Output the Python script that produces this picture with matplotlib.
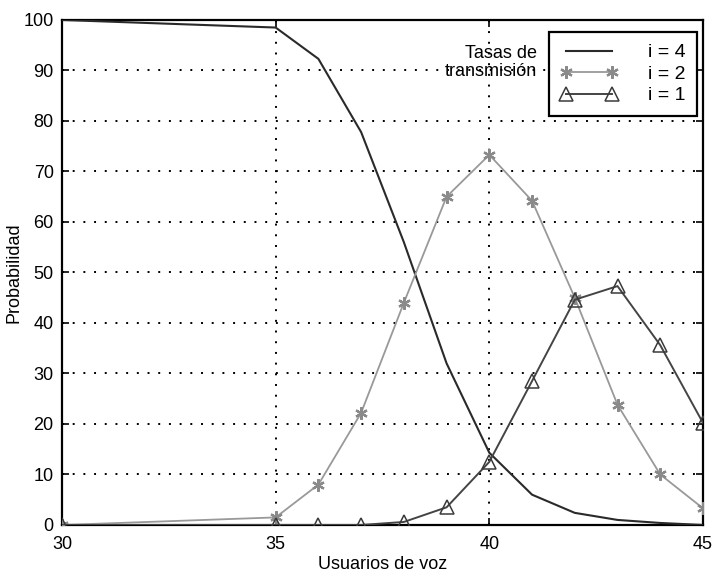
import matplotlib
matplotlib.use("Agg")
import matplotlib.pyplot as plt

plt.rcParams['font.family'] = ['Liberation Sans', 'DejaVu Sans']

x = [30, 35, 36, 37, 38, 39, 40, 41, 42, 43, 44, 45]
i4 = [100, 98.5, 92.3, 77.8, 56, 32, 14.3, 6, 2.4, 1, 0.4, 0]
i2 = [0, 1.5, 8, 22.2, 44, 65, 73.3, 64.2, 45, 23.8, 10, 3.3]
i1 = [0, 0, 0, 0, 0.6, 3.5, 12.5, 28.5, 44.6, 47.3, 35.6, 20.2]
labels = ['i = 4', 'i = 2', 'i = 1']

fig = plt.figure(figsize=(7.15, 5.72), dpi=100)
ax = fig.add_axes([0.0867, 0.0822, 0.8965, 0.8829])

l4, = ax.plot(x, i4, color='#2a2a2a', lw=1.5, zorder=3)
l2, = ax.plot(x, i2, color='#999999', lw=1.3, marker=(6, 2, 0), ms=9,
              mec='#8a8a8a', mew=1.6, zorder=3)
l1, = ax.plot(x, i1, color='#444444', lw=1.4, marker='^', ms=10,
              mfc='none', mec='#3a3a3a', mew=1.1, zorder=3)

ax.set_xlim(30, 45)
ax.set_ylim(0, 100)
ax.set_xticks([30, 35, 40, 45])
ax.set_yticks(range(0, 101, 10))
ax.grid(True, color='black', linestyle=(0, (1, 4.5)), lw=1.4)
ax.tick_params(direction='in', top=True, right=True, labelsize=13, length=5,
               width=1.2, pad=6)
ax.tick_params(axis='x', pad=8)
for s in ax.spines.values():
    s.set_linewidth(1.6)
ax.set_xlabel('Usuarios de voz', fontsize=13, labelpad=2)
ax.set_ylabel('Probabilidad', fontsize=13, labelpad=1)

leg = ax.legend([l4, l2, l1], labels, loc='upper right', bbox_to_anchor=(0.9906, 0.976),
                fontsize=14, frameon=True, fancybox=False, edgecolor='black',
                handlelength=2.95, borderpad=0.6, labelspacing=0.2, numpoints=2,
                handletextpad=1.55, borderaxespad=0, framealpha=1)
leg.get_frame().set_linewidth(1.6)
ax.text(0.741, 0.916, 'Tasas de\ntransmisión', transform=ax.transAxes,
        ha='right', va='center', fontsize=13, linespacing=1.05)

fig.savefig('out.png', dpi=100, facecolor='white')
